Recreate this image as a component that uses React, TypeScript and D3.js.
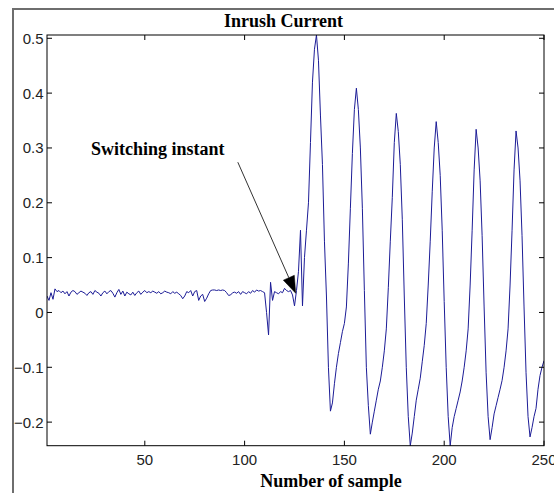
import React from 'react';
import * as d3 from 'd3';

// Inrush current samples, n = 1..250
const current: number[] = [
  0.030, 0.022, 0.036, 0.024, 0.043, 0.038, 0.040, 0.036, 0.039, 0.034,
  0.038, 0.030, 0.037, 0.040, 0.038, 0.033, 0.036, 0.039, 0.037, 0.035,
  0.031, 0.036, 0.038, 0.033, 0.040, 0.037, 0.035, 0.030, 0.036, 0.039,
  0.034, 0.038, 0.040, 0.035, 0.028, 0.036, 0.042, 0.033, 0.039, 0.030,
  0.037, 0.034, 0.032, 0.037, 0.031, 0.036, 0.039, 0.033, 0.037, 0.040,
  0.036, 0.038, 0.036, 0.039, 0.037, 0.035, 0.038, 0.034, 0.036, 0.039,
  0.037, 0.036, 0.034, 0.038, 0.035, 0.037, 0.034, 0.031, 0.025, 0.030,
  0.038, 0.036, 0.040, 0.030, 0.038, 0.040, 0.022, 0.030, 0.033, 0.020,
  0.026, 0.034, 0.040, 0.041, 0.041, 0.040, 0.041, 0.040, 0.041, 0.040,
  0.036, 0.031, 0.032, 0.036, 0.037, 0.035, 0.038, 0.033, 0.038, 0.036,
  0.034, 0.038, 0.035, 0.040, 0.037, 0.041, 0.039, 0.040, 0.038, 0.036,
  0.000, -0.041, 0.055, 0.022, 0.038, 0.036, 0.034, 0.038, 0.036, 0.044,
  0.040, 0.038, 0.040, 0.032, 0.012, 0.040, 0.075, 0.150, 0.012, 0.100,
  0.150, 0.200, 0.310, 0.420, 0.480, 0.506, 0.460, 0.360, 0.270, 0.130,
  0.030, -0.100, -0.180, -0.165, -0.130, -0.100, -0.075, -0.055, -0.035, -0.020,
  0.010, 0.090, 0.190, 0.290, 0.370, 0.409, 0.370, 0.300, 0.190, 0.040,
  -0.100, -0.170, -0.222, -0.200, -0.180, -0.160, -0.140, -0.125, -0.100, -0.070,
  -0.030, 0.045, 0.130, 0.210, 0.310, 0.363, 0.330, 0.270, 0.170, 0.030,
  -0.100, -0.190, -0.243, -0.220, -0.190, -0.160, -0.140, -0.120, -0.090, -0.060,
  -0.020, 0.050, 0.130, 0.220, 0.300, 0.348, 0.310, 0.250, 0.150, 0.020,
  -0.100, -0.190, -0.243, -0.210, -0.190, -0.175, -0.160, -0.145, -0.125, -0.100,
  -0.070, -0.030, 0.050, 0.150, 0.260, 0.334, 0.300, 0.240, 0.140, 0.010,
  -0.110, -0.190, -0.232, -0.210, -0.185, -0.170, -0.155, -0.140, -0.124, -0.100,
  -0.070, -0.030, 0.050, 0.150, 0.260, 0.331, 0.300, 0.240, 0.140, 0.010,
  -0.110, -0.190, -0.227, -0.210, -0.190, -0.175, -0.140, -0.115, -0.100, -0.088,
];
const sampleIndex: number[] = current.map((_, i) => i + 1);

const xTicks: number[] = [50, 100, 150, 200, 250];
const yTicks: number[] = [-0.2, -0.1, 0, 0.1, 0.2, 0.3, 0.4, 0.5];

const titleText = 'Inrush Current';
const xLabelText = 'Number of sample';
const annotationText = 'Switching instant';
// annotation anchor points in data units [sample, current]
const annotationTextAt: [number, number] = [23, 0.287];
const arrowFrom: [number, number] = [96.6, 0.274];
const arrowTo: [number, number] = [125.6, 0.035];

const W = 554;
const H = 493;
const plot = { left: 47, right: 544, top: 35, bottom: 445.7 };

export default function App() {
  const x = d3
    .scaleLinear()
    .domain(d3.extent(sampleIndex) as [number, number])
    .range([plot.left, plot.right]);
  const y = d3
    .scaleLinear()
    .domain(d3.extent(current) as [number, number])
    .range([plot.bottom, plot.top]);

  const line = d3
    .line<number>()
    .x((_, i) => x(sampleIndex[i]))
    .y((d) => y(d));

  const tickLen = 5;
  const fmt = (v: number) => (Math.abs(v) < 1e-9 ? '0' : d3.format('.1f')(v));

  // arrow
  const ax1 = x(arrowFrom[0]);
  const ay1 = y(arrowFrom[1]);
  const ax2 = x(arrowTo[0]);
  const ay2 = y(arrowTo[1]);
  const dx = ax2 - ax1;
  const dy = ay2 - ay1;
  const len = Math.hypot(dx, dy);
  const ux = dx / len;
  const uy = dy / len;
  const headLen = 17;
  const headHalf = 6;
  const bx = ax2 - ux * headLen;
  const by = ay2 - uy * headLen;
  const head = `M${ax2},${ay2} L${bx - uy * headHalf},${by + ux * headHalf} L${bx + uy * headHalf},${by - ux * headHalf} Z`;

  return (
    <svg
      width={W}
      height={H}
      style={{ position: 'absolute', left: 0, top: 0, background: '#fff' }}
    >
      <rect x={0} y={0} width={W} height={H} fill="#fff" />
      {/* figure frame */}
      <path d={`M13,${H + 5} L13,9 L${W + 5},9`} fill="none" stroke="#6e6e6e" strokeWidth={2} />
      <defs>
        <clipPath id="plotClip">
          <rect x={plot.left} y={plot.top - 1} width={plot.right - plot.left} height={plot.bottom - plot.top + 2} />
        </clipPath>
      </defs>
      {/* data line */}
      <path
        d={line(current) || ''}
        fill="none"
        stroke="#1c1c96"
        strokeWidth={1}
        clipPath="url(#plotClip)"
      />
      {/* axes box */}
      <rect
        x={plot.left}
        y={plot.top}
        width={plot.right - plot.left}
        height={plot.bottom - plot.top}
        fill="none"
        stroke="#000"
        strokeWidth={1}
      />
      {/* x ticks */}
      {xTicks.map((t) => (
        <g key={'x' + t}>
          <line x1={x(t)} x2={x(t)} y1={plot.bottom} y2={plot.bottom - tickLen} stroke="#000" />
          <line x1={x(t)} x2={x(t)} y1={plot.top} y2={plot.top + tickLen} stroke="#000" />
          <text
            x={x(t)}
            y={464.5}
            textAnchor="middle"
            fontFamily="'Liberation Sans', Arial, sans-serif"
            fontSize={15}
            fill="#222"
          >
            {t}
          </text>
        </g>
      ))}
      {/* y ticks */}
      {yTicks.map((t) => (
        <g key={'y' + t}>
          <line x1={plot.left} x2={plot.left + tickLen} y1={y(t)} y2={y(t)} stroke="#000" />
          <line x1={plot.right} x2={plot.right - tickLen} y1={y(t)} y2={y(t)} stroke="#000" />
          <text
            x={43.5}
            y={y(t) + 5.5}
            textAnchor="end"
            fontFamily="'Liberation Sans', Arial, sans-serif"
            fontSize={15}
            fill="#222"
          >
            {fmt(t)}
          </text>
        </g>
      ))}
      {/* title */}
      <text
        x={283.5}
        y={27}
        textAnchor="middle"
        fontFamily="'Liberation Serif', 'Times New Roman', serif"
        fontWeight="bold"
        fontSize={18}
        fill="#000"
      >
        {titleText}
      </text>
      {/* x label */}
      <text
        x={331}
        y={487}
        textAnchor="middle"
        fontFamily="'Liberation Serif', 'Times New Roman', serif"
        fontWeight="bold"
        fontSize={18}
        fill="#000"
      >
        {xLabelText}
      </text>
      {/* annotation */}
      <text
        x={x(annotationTextAt[0])}
        y={y(annotationTextAt[1])}
        fontFamily="'Liberation Serif', 'Times New Roman', serif"
        fontWeight="bold"
        fontSize={18}
        fill="#000"
      >
        {annotationText}
      </text>
      <line x1={ax1} y1={ay1} x2={bx} y2={by} stroke="#333" strokeWidth={1} />
      <path d={head} fill="#000" stroke="#000" strokeWidth={0.5} />
    </svg>
  );
}
